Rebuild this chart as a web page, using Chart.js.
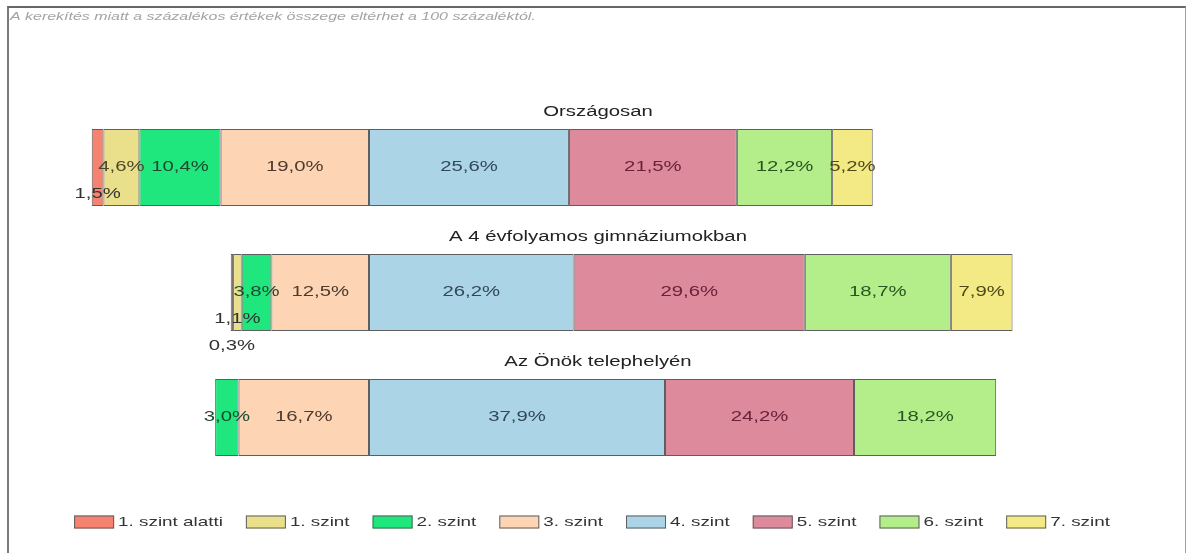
<!DOCTYPE html>
<html><head><meta charset="utf-8">
<script src="https://cdn.jsdelivr.net/npm/chart.js@4.4.1/dist/chart.umd.min.js"></script>
<style>
html,body{margin:0;padding:0;background:#fff;}
#wrap{position:relative;width:1186px;height:553px;overflow:hidden;}
#frame{position:absolute;left:7px;top:6px;width:1176px;height:600px;border-top:2px solid #666;border-left:2px solid #7a7a7a;border-right:1px solid #a0a0a0;}
canvas{position:absolute;left:0;top:0;}
</style></head><body>
<div id="wrap"><div id="frame"></div><canvas id="c" width="1186" height="553"></canvas></div>
<script>
// ---- data ----
const categories = ['Országosan', 'A 4 évfolyamos gimnáziumokban', 'Az Önök telephelyén'];
const levelNames = ['1. szint alatti', '1. szint', '2. szint', '3. szint', '4. szint', '5. szint', '6. szint', '7. szint'];
const szintAlatti = [1.5, 0.3, 0];
const szint1 = [4.6, 1.1, 0];
const szint2 = [10.4, 3.8, 3.0];
const szint3 = [19.0, 12.5, 16.7];
const szint4 = [25.6, 26.2, 37.9];
const szint5 = [21.5, 29.6, 24.2];
const szint6 = [12.2, 18.7, 18.2];
const szint7 = [5.2, 7.9, 0];
const subtitleText = 'A kerekítés miatt a százalékos értékek összege eltérhet a 100 százaléktól.';

const series = [szintAlatti, szint1, szint2, szint3, szint4, szint5, szint6, szint7];
const fillColors = ['#F5836F', '#EAE08C', '#1FE77E', '#FDD5B4', '#ABD5E6', '#DC8A9C', '#B3EE8A', '#F3E985'];
const labelColors = ['#3a2a28', '#4a4828', '#1d4a2e', '#4e3a2c', '#34485a', '#6a2238', '#2a5420', '#4e4a18'];
const edgeColor = '#5e5e5e';
const FONT = '"Liberation Sans", Arial, sans-serif';
const S = 1.45; // horizontal text stretch of the reference

// diverging: levels 0..3 go left of zero (3 nearest), 4..7 go right
function floatingData(k) {
  return categories.map((c, i) => {
    const v = series[k][i];
    if (!v) return null;
    let start = 0;
    if (k <= 3) {
      for (let j = k; j <= 3; j++) start -= series[j][i];
    } else {
      for (let j = 4; j < k; j++) start += series[j][i];
    }
    return [start, start + v];
  });
}

function sText(ctx, txt, x, y, align) {
  ctx.save();
  ctx.translate(x, y);
  ctx.scale(S, 1);
  ctx.textAlign = align;
  ctx.fillText(txt, 0, 0);
  ctx.restore();
}
function fmt(v) { return v.toFixed(1).replace('.', ',') + '%'; }

const labelPlugin = {
  id: 'segLabels',
  afterDatasetsDraw(chart) {
    const ctx = chart.ctx;
    ctx.save();
    ctx.font = '14px ' + FONT;
    ctx.textBaseline = 'middle';
    categories.forEach((c, i) => {
      const draw = (d, lvlRef) => {
        const v = series[d][i];
        if (!v) return;
        const el = chart.getDatasetMeta(d).data[i];
        const w = Math.abs(el.x - el.base);
        const cx = (el.x + el.base) / 2;
        let y = el.y;
        if (w < 16) { lvlRef.n++; y = el.y + 27 * lvlRef.n; ctx.fillStyle = '#333'; }
        else ctx.fillStyle = labelColors[d];
        sText(ctx, fmt(v), cx, y, 'center');
      };
      const left = { n: 0 };
      for (let d = 3; d >= 0; d--) draw(d, left);
      const right = { n: 0 };
      for (let d = 4; d <= 7; d++) draw(d, right);
    });
    ctx.restore();
  }
};

const decoPlugin = {
  id: 'deco',
  afterDraw(chart) {
    const ctx = chart.ctx;
    ctx.save();
    // subtitle
    ctx.font = 'italic 11px ' + FONT;
    ctx.fillStyle = '#a4a4a4';
    ctx.textBaseline = 'alphabetic';
    sText(ctx, subtitleText, 10, 20, 'left');
    // group titles
    ctx.font = '14px ' + FONT;
    ctx.fillStyle = '#222';
    categories.forEach((c, i) => {
      const el = chart.getDatasetMeta(4).data[i];
      const top = el.y - el.height / 2;
      sText(ctx, c, 598, top - 13, 'center');
    });
    // legend
    ctx.font = '13px ' + FONT;
    ctx.textBaseline = 'middle';
    const boxW = 40, boxH = 13, gap = 4, pad = 23, cy = 522;
    const widths = levelNames.map(t => boxW + gap + ctx.measureText(t).width * S);
    const total = widths.reduce((a, b) => a + b, 0) + pad * (levelNames.length - 1);
    let x = 592 - total / 2;
    levelNames.forEach((t, k) => {
      ctx.fillStyle = fillColors[k];
      ctx.fillRect(x, cy - boxH / 2, boxW, boxH);
      ctx.strokeStyle = edgeColor;
      ctx.lineWidth = 1;
      ctx.strokeRect(x + 0.5, cy - boxH / 2 + 0.5, boxW - 1, boxH - 1);
      ctx.fillStyle = '#333';
      sText(ctx, t, x + boxW + gap, cy, 'left');
      x += widths[k] + pad;
    });
    ctx.restore();
  }
};

new Chart(document.getElementById('c'), {
  type: 'bar',
  data: {
    labels: categories,
    datasets: levelNames.map((name, k) => ({
      label: name,
      data: floatingData(k),
      backgroundColor: fillColors[k],
      borderColor: edgeColor,
      borderWidth: 1,
      borderSkipped: false,
      grouped: false,
      barPercentage: 0.616,
      categoryPercentage: 1
    }))
  },
  options: {
    indexAxis: 'y',
    responsive: false,
    animation: false,
    layout: { padding: { left: 17.55, right: 36, top: 105, bottom: 73 } },
    scales: {
      x: { type: 'linear', min: -45, max: 100, display: false },
      y: { type: 'category', display: false }
    },
    plugins: { legend: { display: false }, tooltip: { enabled: false } }
  },
  plugins: [labelPlugin, decoPlugin]
});
</script>
</body></html>
